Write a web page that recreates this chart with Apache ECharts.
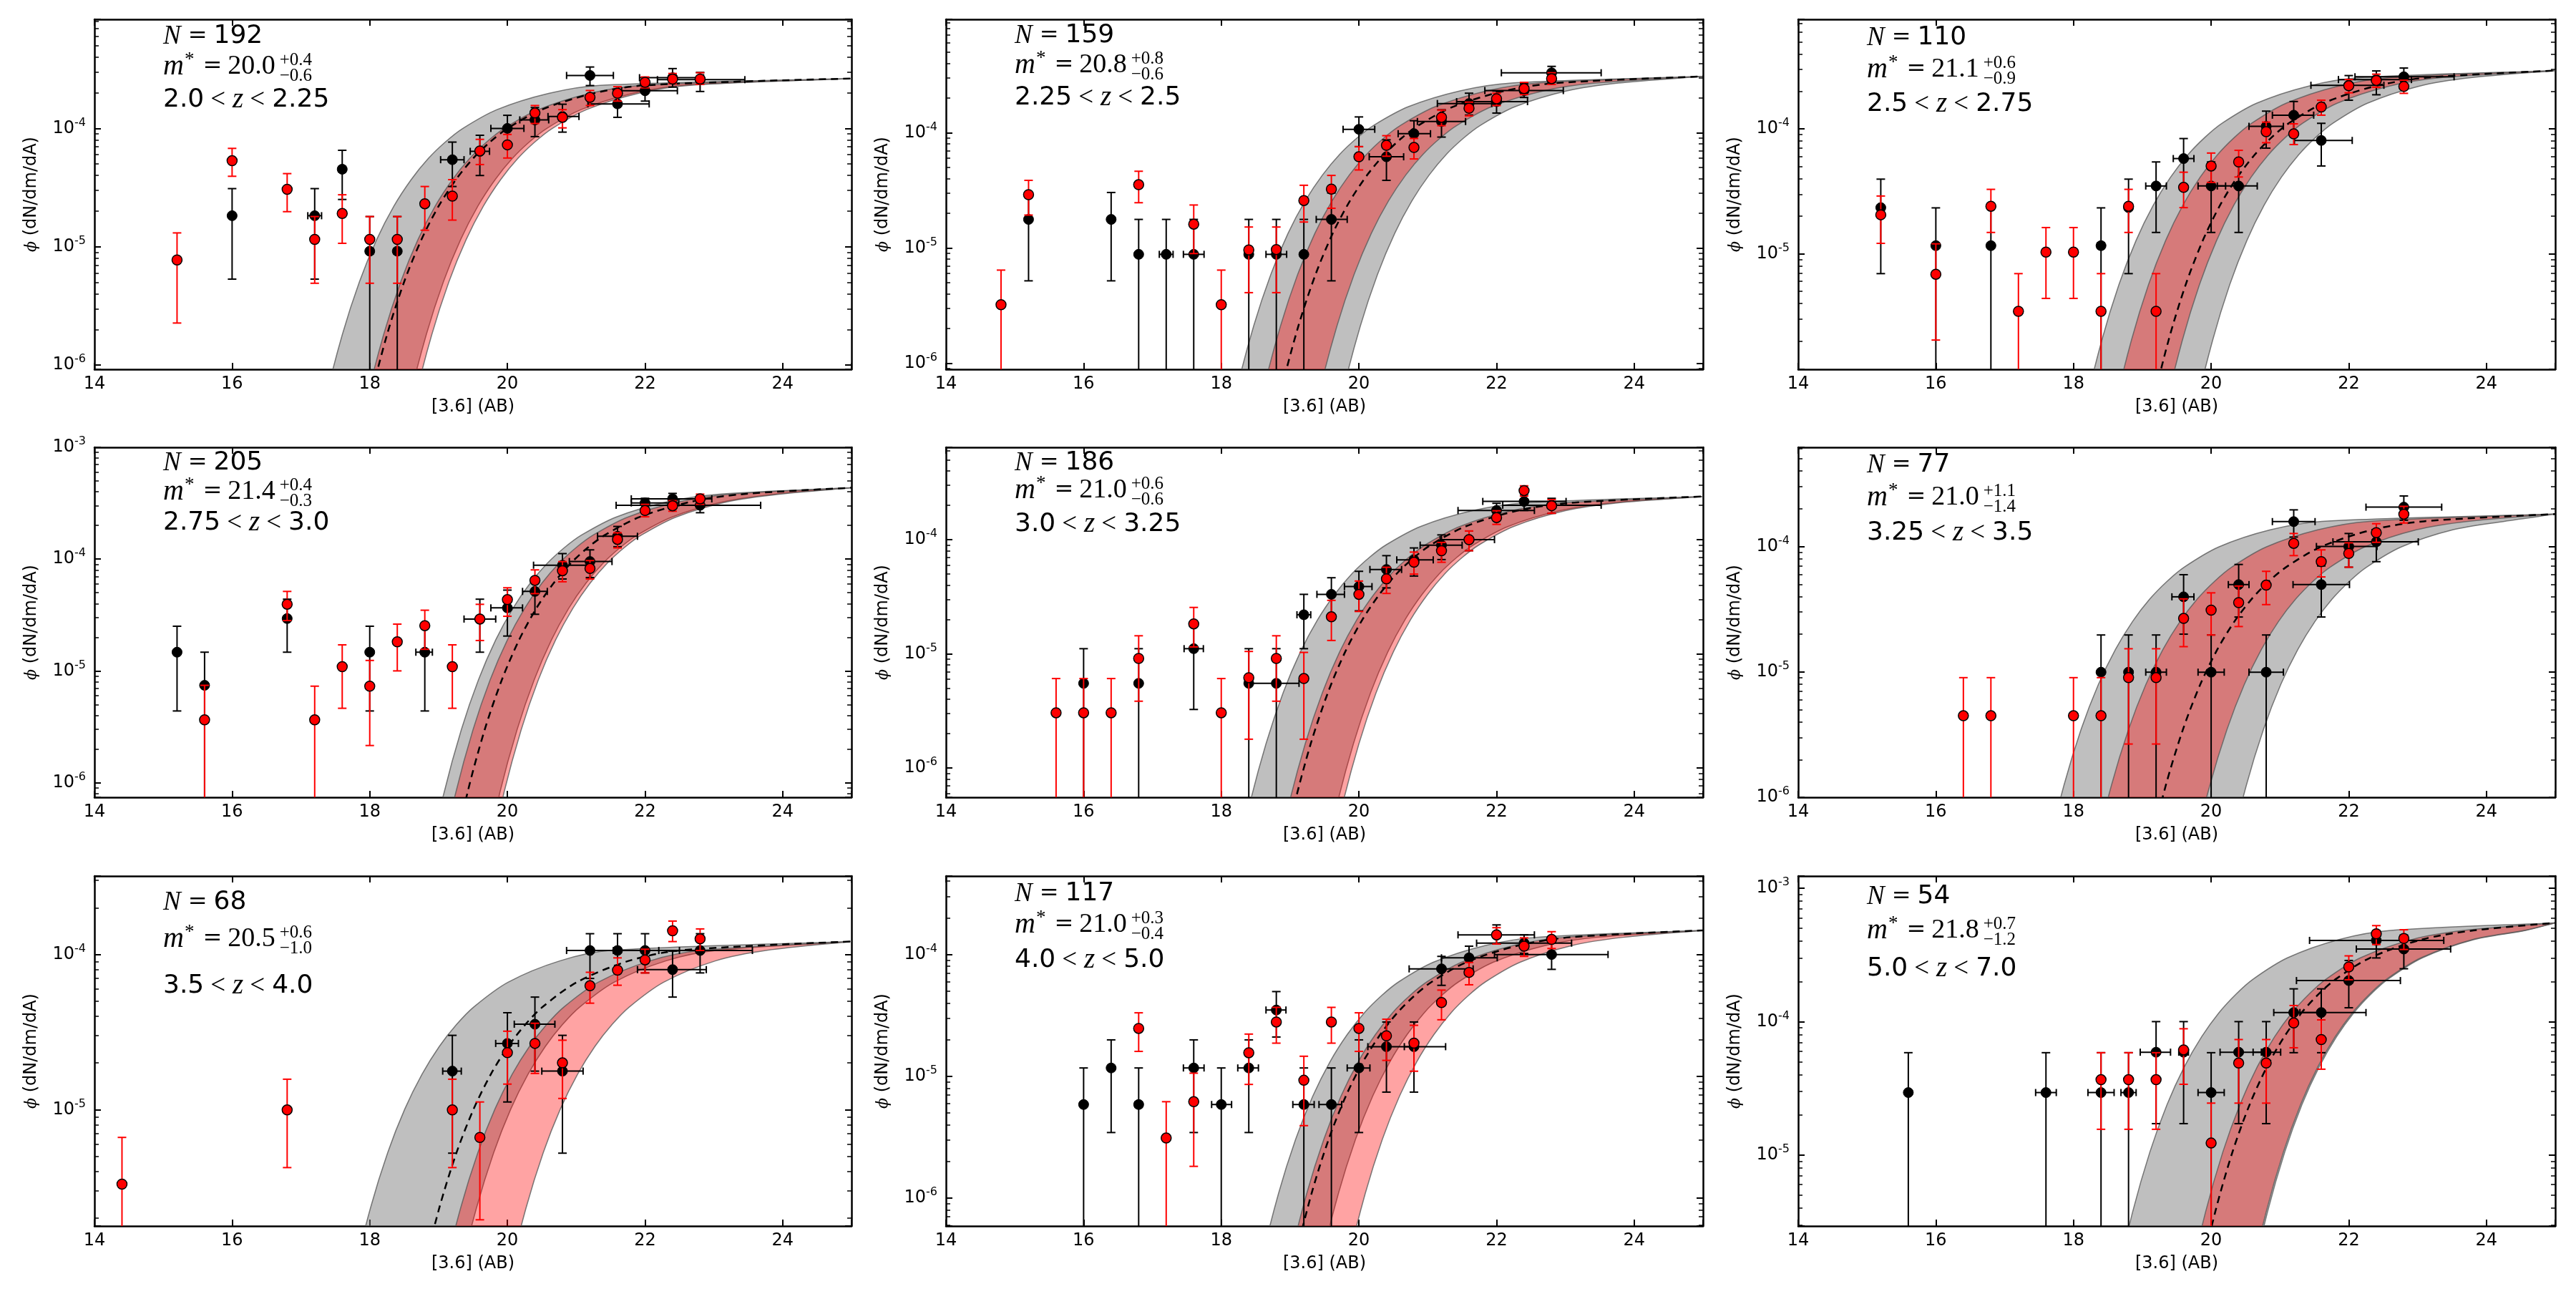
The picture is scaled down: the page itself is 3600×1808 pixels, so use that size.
<!DOCTYPE html>
<html>
<head>
<meta charset="utf-8">
<script src="https://cdn.jsdelivr.net/npm/echarts@6/dist/echarts.min.js"></script>
<style>
html, body { margin: 0; padding: 0; background: #fff; }
#chart { width: 3600px; height: 1808px; }
</style>
</head>
<body>
<div id="chart"></div>
<script>
// ---- fitted curves: flux levels and the [3.6] magnitude where each curve reaches them ----
var p1Levels = [9.62e-8, 4.93e-7, 1.80e-6, 5.06e-6, 1.148e-5, 2.20e-5, 3.68e-5, 5.56e-5, 7.69e-5, 9.98e-5, 1.442e-4, 1.977e-4, 2.312e-4, 2.637e-4];
var p1Mid   = [17.75, 18, 18.25, 18.5, 18.75, 19, 19.25, 19.5, 19.75, 20, 20.5, 21.25, 22, 25];
var p1GrayL = [17.1, 17.35, 17.6, 17.85, 18.1, 18.35, 18.6, 18.85, 19.1, 19.35, 19.85, 20.6, 21.35, 25];
var p1GrayR = [18.32, 18.57, 18.82, 19.07, 19.32, 19.57, 19.82, 20.07, 20.32, 20.57, 21.07, 21.82, 22.57, 25];
var p1RedL  = [17.7, 17.95, 18.2, 18.45, 18.7, 18.95, 19.2, 19.45, 19.7, 19.95, 20.45, 21.2, 21.95, 25];
var p1RedR  = [18.4, 18.65, 18.9, 19.15, 19.4, 19.65, 19.9, 20.15, 20.4, 20.65, 21.15, 21.9, 22.65, 25];

var p2Levels = [1.121e-7, 5.75e-7, 2.10e-6, 5.90e-6, 1.339e-5, 2.563e-5, 4.29e-5, 6.48e-5, 8.97e-5, 1.163e-4, 1.681e-4, 2.305e-4, 2.695e-4, 3.075e-4];
var p2Mid   = [18.62, 18.87, 19.12, 19.37, 19.62, 19.87, 20.12, 20.37, 20.62, 20.87, 21.37, 22.12, 22.87, 25];
var p2GrayL = [17.97, 18.22, 18.47, 18.72, 18.97, 19.22, 19.47, 19.72, 19.97, 20.22, 20.72, 21.47, 22.22, 25];
var p2GrayR = [19.52, 19.77, 20.02, 20.27, 20.52, 20.77, 21.02, 21.27, 21.52, 21.77, 22.27, 23.02, 23.77, 25];
var p2RedL  = [18.36, 18.61, 18.86, 19.11, 19.36, 19.61, 19.86, 20.11, 20.36, 20.61, 21.11, 21.86, 22.61, 25];
var p2RedR  = [19.18, 19.43, 19.68, 19.93, 20.18, 20.43, 20.68, 20.93, 21.18, 21.43, 21.93, 22.68, 23.43, 25];

var p3Levels = [1.071e-7, 5.50e-7, 2.008e-6, 5.64e-6, 1.279e-5, 2.449e-5, 4.10e-5, 6.19e-5, 8.57e-5, 1.112e-4, 1.607e-4, 2.203e-4, 2.576e-4, 2.938e-4];
var p3Mid   = [18.88, 19.13, 19.38, 19.63, 19.88, 20.13, 20.38, 20.63, 20.88, 21.13, 21.63, 22.38, 23.13, 25];
var p3GrayL = [17.91, 18.16, 18.41, 18.66, 18.91, 19.16, 19.41, 19.66, 19.91, 20.16, 20.66, 21.41, 22.16, 25];
var p3GrayR = [19.52, 19.77, 20.02, 20.27, 20.52, 20.77, 21.02, 21.27, 21.52, 21.77, 22.27, 23.02, 23.77, 25];
var p3RedL  = [18.34, 18.59, 18.84, 19.09, 19.34, 19.59, 19.84, 20.09, 20.34, 20.59, 21.09, 21.84, 22.59, 25];
var p3RedR  = [19.08, 19.33, 19.58, 19.83, 20.08, 20.33, 20.58, 20.83, 21.08, 21.33, 21.83, 22.58, 23.33, 25];

var p4Levels = [1.586e-7, 8.14e-7, 2.973e-6, 8.34e-6, 1.893e-5, 3.625e-5, 6.07e-5, 9.17e-5, 1.269e-4, 1.645e-4, 2.378e-4, 3.261e-4, 3.813e-4, 4.349e-4];
var p4Mid   = [19.17, 19.42, 19.67, 19.92, 20.17, 20.42, 20.67, 20.92, 21.17, 21.42, 21.92, 22.67, 23.42, 25];
var p4GrayL = [18.83, 19.08, 19.33, 19.58, 19.83, 20.08, 20.33, 20.58, 20.83, 21.08, 21.58, 22.33, 23.08, 25];
var p4GrayR = [19.64, 19.89, 20.14, 20.39, 20.64, 20.89, 21.14, 21.39, 21.64, 21.89, 22.39, 23.14, 23.89, 25];
var p4RedL  = [19, 19.25, 19.5, 19.75, 20, 20.25, 20.5, 20.75, 21, 21.25, 21.75, 22.5, 23.25, 25];
var p4RedR  = [19.7, 19.95, 20.2, 20.45, 20.7, 20.95, 21.2, 21.45, 21.7, 21.95, 22.45, 23.2, 23.95, 25];

var p5Levels = [8.71e-8, 4.47e-7, 1.633e-6, 4.58e-6, 1.040e-5, 1.991e-5, 3.33e-5, 5.04e-5, 6.97e-5, 9.04e-5, 1.306e-4, 1.791e-4, 2.094e-4, 2.389e-4];
var p5Mid   = [18.8, 19.05, 19.3, 19.55, 19.8, 20.05, 20.3, 20.55, 20.8, 21.05, 21.55, 22.3, 23.05, 25];
var p5GrayL = [18.15, 18.4, 18.65, 18.9, 19.15, 19.4, 19.65, 19.9, 20.15, 20.4, 20.9, 21.65, 22.4, 25];
var p5GrayR = [19.42, 19.67, 19.92, 20.17, 20.42, 20.67, 20.92, 21.17, 21.42, 21.67, 22.17, 22.92, 23.67, 25];
var p5RedL  = [18.72, 18.97, 19.22, 19.47, 19.72, 19.97, 20.22, 20.47, 20.72, 20.97, 21.47, 22.22, 22.97, 25];
var p5RedR  = [19.5, 19.75, 20, 20.25, 20.5, 20.75, 21, 21.25, 21.5, 21.75, 22.25, 23, 23.75, 25];

var p6Levels = [6.61e-8, 3.39e-7, 1.238e-6, 3.47e-6, 7.89e-6, 1.510e-5, 2.53e-5, 3.82e-5, 5.28e-5, 6.85e-5, 9.91e-5, 1.358e-4, 1.588e-4, 1.812e-4];
var p6Mid   = [18.84, 19.09, 19.34, 19.59, 19.84, 20.09, 20.34, 20.59, 20.84, 21.09, 21.59, 22.34, 23.09, 25];
var p6GrayL = [17.36, 17.61, 17.86, 18.11, 18.36, 18.61, 18.86, 19.11, 19.36, 19.61, 20.11, 20.86, 21.61, 25];
var p6GrayR = [20.01, 20.26, 20.51, 20.76, 21.01, 21.26, 21.51, 21.76, 22.01, 22.26, 22.76, 23.51, 24.26, 25];
var p6RedL  = [18.05, 18.3, 18.55, 18.8, 19.05, 19.3, 19.55, 19.8, 20.05, 20.3, 20.8, 21.55, 22.3, 25];
var p6RedR  = [19.48, 19.73, 19.98, 20.23, 20.48, 20.73, 20.98, 21.23, 21.48, 21.73, 22.23, 22.98, 23.73, 25];

var p7Levels = [4.42e-8, 2.27e-7, 8.28e-7, 2.32e-6, 5.27e-6, 1.010e-5, 1.691e-5, 2.55e-5, 3.53e-5, 4.58e-5, 6.62e-5, 9.08e-5, 1.062e-4, 1.211e-4];
var p7Mid   = [18.26, 18.51, 18.76, 19.01, 19.26, 19.51, 19.76, 20.01, 20.26, 20.51, 21.01, 21.76, 22.51, 25];
var p7GrayL = [17.26, 17.51, 17.76, 18.01, 18.26, 18.51, 18.76, 19.01, 19.26, 19.51, 20.01, 20.76, 21.51, 25];
var p7GrayR = [18.8, 19.05, 19.3, 19.55, 19.8, 20.05, 20.3, 20.55, 20.8, 21.05, 21.55, 22.3, 23.05, 25];
var p7RedL  = [18.57, 18.82, 19.07, 19.32, 19.57, 19.82, 20.07, 20.32, 20.57, 20.82, 21.32, 22.07, 22.82, 25];
var p7RedR  = [19.52, 19.77, 20.02, 20.27, 20.52, 20.77, 21.02, 21.27, 21.52, 21.77, 22.27, 23.02, 23.77, 25];

var p8Levels = [5.75e-8, 2.95e-7, 1.079e-6, 3.03e-6, 6.87e-6, 1.315e-5, 2.20e-5, 3.33e-5, 4.60e-5, 5.97e-5, 8.63e-5, 1.183e-4, 1.384e-4, 1.578e-4];
var p8Mid   = [18.81, 19.06, 19.31, 19.56, 19.81, 20.06, 20.31, 20.56, 20.81, 21.06, 21.56, 22.31, 23.06, 25];
var p8GrayL = [18.33, 18.58, 18.83, 19.08, 19.33, 19.58, 19.83, 20.08, 20.33, 20.58, 21.08, 21.83, 22.58, 25];
var p8GrayR = [19.2, 19.45, 19.7, 19.95, 20.2, 20.45, 20.7, 20.95, 21.2, 21.45, 21.95, 22.7, 23.45, 25];
var p8RedL  = [18.74, 18.99, 19.24, 19.49, 19.74, 19.99, 20.24, 20.49, 20.74, 20.99, 21.49, 22.24, 22.99, 25];
var p8RedR  = [19.59, 19.84, 20.09, 20.34, 20.59, 20.84, 21.09, 21.34, 21.59, 21.84, 22.34, 23.09, 23.84, 25];

var p9Levels = [2.005e-7, 1.028e-6, 3.757e-6, 1.054e-5, 2.393e-5, 4.582e-5, 7.67e-5, 1.159e-4, 1.603e-4, 2.080e-4, 3.006e-4, 4.122e-4, 4.819e-4, 5.497e-4];
var p9Mid   = [19.56, 19.81, 20.06, 20.31, 20.56, 20.81, 21.06, 21.31, 21.56, 21.81, 22.31, 23.06, 23.81, 25];
var p9GrayL = [18.36, 18.61, 18.86, 19.11, 19.36, 19.61, 19.86, 20.11, 20.36, 20.61, 21.11, 21.86, 22.61, 25];
var p9GrayR = [20.32, 20.57, 20.82, 21.07, 21.32, 21.57, 21.82, 22.07, 22.32, 22.57, 23.07, 23.82, 24.57, 25];
var p9RedL  = [19.42, 19.67, 19.92, 20.17, 20.42, 20.67, 20.92, 21.17, 21.42, 21.67, 22.17, 22.92, 23.67, 25];
var p9RedR  = [20.3, 20.55, 20.8, 21.05, 21.3, 21.55, 21.8, 22.05, 22.3, 22.55, 23.05, 23.8, 24.55, 25];

// ---- measured points: red [mag, phi, phiLow, phiHigh]; black adds [magLow, magHigh]; phiLow 0 = bar to zero ----
var p1Red = [[15.2,7.74e-6,2.27e-6,1.31e-5],[16.0,5.33e-5,3.94e-5,6.78e-5],[16.8,3.06e-5,1.98e-5,4.15e-5],[17.2,1.155e-5,4.92e-6,1.8e-5],[17.6,1.91e-5,1.07e-5,2.75e-5],[18.0,1.155e-5,4.92e-6,1.8e-5],[18.4,1.155e-5,4.92e-6,1.8e-5],[18.8,2.31e-5,1.38e-5,3.23e-5],[19.2,2.68e-5,1.68e-5,3.69e-5],[19.6,6.45e-5,4.95e-5,8.08e-5],[20.0,7.26e-5,5.62e-5,8.89e-5],[20.4,1.35e-4,1.10e-4,1.56e-4],[20.8,1.24e-4,1.01e-4,1.44e-4],[21.2,1.83e-4,1.56e-4,2.09e-4],[21.6,1.98e-4,1.70e-4,2.25e-4],[22.0,2.45e-4,2.20e-4,2.72e-4],[22.4,2.61e-4,2.38e-4,2.91e-4],[22.8,2.61e-4,2.35e-4,2.95e-4]];
var p1Black = [[16.0,1.83e-5,5.33e-6,3.1e-5,16.0,16.0],[17.2,1.83e-5,5.33e-6,3.1e-5,17.1,17.3],[17.6,4.52e-5,2.51e-5,6.53e-5,17.55,17.65],[18.0,9.18e-6,0,1.8e-5,17.95,18.05],[18.4,9.18e-6,0,1.8e-5,18.35,18.45],[19.2,5.44e-5,3.23e-5,7.66e-5,19.03,19.37],[19.6,6.4e-5,4.0e-5,8.75e-5,19.46,19.74],[20.0,1.0e-4,7.4e-5,1.29e-4,19.76,20.24],[20.4,1.18e-4,8.52e-5,1.5e-4,20.18,20.6],[20.8,1.26e-4,9.3e-5,1.6e-4,20.59,21.04],[21.2,2.8e-4,2.3e-4,3.3e-4,20.86,21.54],[21.6,1.61e-4,1.24e-4,1.98e-4,21.17,22.06],[22.0,2.08e-4,1.7e-4,2.5e-4,21.66,22.47],[22.4,2.68e-4,2.23e-4,3.2e-4,21.92,22.85],[22.8,2.58e-4,2.05e-4,2.97e-4,22.18,23.45]];

var p2Red = [[14.8,3.22e-6,0,6.43e-6],[15.2,2.90e-5,1.93e-5,3.86e-5],[16.8,3.54e-5,2.47e-5,4.63e-5],[17.6,1.61e-5,8.95e-6,2.36e-5],[18.0,3.22e-6,0,6.43e-6],[18.4,9.61e-6,4.10e-6,1.52e-5],[18.8,9.7e-6,4.10e-6,1.52e-5],[19.2,2.58e-5,1.68e-5,3.50e-5],[19.6,3.24e-5,2.21e-5,4.26e-5],[20.0,6.18e-5,4.75e-5,7.57e-5],[20.4,7.78e-5,6.25e-5,9.42e-5],[20.8,7.44e-5,5.92e-5,8.91e-5],[21.2,1.36e-4,1.15e-4,1.57e-4],[21.6,1.63e-4,1.40e-4,1.84e-4],[22.0,1.97e-4,1.72e-4,2.20e-4],[22.4,2.41e-4,2.14e-4,2.73e-4],[22.8,2.94e-4,2.62e-4,3.31e-4]];
var p2Black = [[15.2,1.77e-5,5.19e-6,2.9e-5,15.2,15.2],[16.4,1.77e-5,5.19e-6,3.03e-5,16.4,16.4],[16.8,8.81e-6,0,1.77e-5,16.8,16.8],[17.2,8.81e-6,0,1.77e-5,17.1,17.3],[17.6,8.81e-6,0,1.77e-5,17.45,17.75],[18.4,8.81e-6,0,1.77e-5,18.4,18.4],[18.8,8.81e-6,0,1.77e-5,18.65,18.95],[19.2,8.81e-6,0,1.77e-5,19.2,19.2],[19.6,1.77e-5,5.19e-6,3.0e-5,19.38,19.83],[20.0,1.07e-4,7.57e-5,1.37e-4,19.77,20.23],[20.4,6.18e-5,3.86e-5,8.67e-5,20.15,20.65],[20.8,9.8e-5,7.36e-5,1.27e-4,20.57,21.04],[21.2,1.25e-4,9.16e-5,1.58e-4,20.85,21.55],[21.6,1.79e-4,1.42e-4,2.2e-4,21.14,21.93],[22.0,1.86e-4,1.48e-4,2.3e-4,21.42,22.45],[22.4,2.32e-4,2.02e-4,2.66e-4,21.83,22.97],[22.8,3.31e-4,2.73e-4,3.76e-4,22.07,23.52]];

var p3Red = [[15.2,2.05e-5,1.21e-5,2.90e-5],[16.0,6.84e-6,2.03e-6,1.2e-5],[16.8,2.40e-5,1.48e-5,3.28e-5],[17.2,3.45e-6,0,6.92e-6],[17.6,1.03e-5,4.38e-6,1.62e-5],[18.0,1.03e-5,4.38e-6,1.62e-5],[18.4,3.45e-6,0,6.92e-6],[18.8,2.40e-5,1.48e-5,3.28e-5],[19.2,3.45e-6,0,6.92e-6],[19.6,3.40e-5,2.34e-5,4.50e-5],[20.0,5.05e-5,3.73e-5,6.41e-5],[20.4,5.44e-5,4.12e-5,6.74e-5],[20.8,9.51e-5,7.76e-5,1.135e-4],[21.2,9.13e-5,7.5e-5,1.1e-4],[21.6,1.50e-4,1.29e-4,1.70e-4],[22.0,2.22e-4,1.95e-4,2.49e-4],[22.4,2.45e-4,2.16e-4,2.75e-4],[22.8,2.19e-4,1.93e-4,2.46e-4]];
var p3Black = [[15.2,2.34e-5,6.92e-6,3.96e-5,15.2,15.2],[16.0,1.16e-5,0,2.33e-5,16.0,16.0],[16.8,1.16e-5,0,2.33e-5,16.8,16.8],[18.4,1.16e-5,0,2.33e-5,18.35,18.45],[18.8,2.34e-5,6.92e-6,3.96e-5,18.8,18.8],[19.2,3.49e-5,1.48e-5,5.44e-5,19.05,19.35],[19.6,5.79e-5,3.46e-5,8.38e-5,19.45,19.75],[20.0,3.49e-5,1.48e-5,5.44e-5,19.81,20.21],[20.4,3.49e-5,1.48e-5,5.44e-5,20.09,20.67],[20.8,1.05e-4,7.02e-5,1.39e-4,20.55,21.05],[21.2,1.29e-4,9.0e-5,1.66e-4,20.89,21.49],[21.6,8.09e-5,5.05e-5,1.11e-4,21.21,22.05],[22.0,2.24e-4,1.70e-4,2.68e-4,21.45,22.51],[22.4,2.49e-4,1.88e-4,2.92e-4,21.85,22.91],[22.8,2.62e-4,2.19e-4,3.08e-4,22.09,23.53]];

var p4Red = [[15.6,3.65e-6,0,7.43e-6],[16.8,3.95e-5,2.82e-5,5.14e-5],[17.2,3.65e-6,0,7.3e-6],[17.6,1.09e-5,4.63e-6,1.71e-5],[18.0,7.3e-6,2.15e-6,1.24e-5],[18.4,1.82e-5,1.0e-5,2.62e-5],[18.8,2.54e-5,1.56e-5,3.49e-5],[19.2,1.09e-5,4.63e-6,1.71e-5],[19.6,2.91e-5,1.87e-5,3.94e-5],[20.0,4.34e-5,3.08e-5,5.54e-5],[20.4,6.45e-5,4.91e-5,8.01e-5],[20.8,7.87e-5,6.27e-5,9.5e-5],[21.2,8.24e-5,6.64e-5,9.7e-5],[21.6,1.50e-4,1.26e-4,1.72e-4],[22.0,2.72e-4,2.39e-4,3.09e-4],[22.4,3.0e-4,2.68e-4,3.33e-4],[22.8,3.46e-4,3.09e-4,3.81e-4]];
var p4Black = [[15.2,1.47e-5,4.38e-6,2.51e-5,15.2,15.2],[15.6,7.43e-6,0,1.47e-5,15.6,15.6],[16.8,2.94e-5,1.47e-5,4.38e-5,16.8,16.8],[18.0,1.47e-5,4.38e-6,2.51e-5,18.0,18.0],[18.8,1.47e-5,4.38e-6,2.51e-5,18.67,18.91],[19.6,2.91e-5,1.47e-5,4.38e-5,19.37,19.83],[20.0,3.66e-5,2.05e-5,5.28e-5,19.76,20.22],[20.4,5.14e-5,3.21e-5,6.8e-5,20.22,20.58],[20.8,8.82e-5,6.64e-5,1.12e-4,20.38,21.15],[21.2,9.51e-5,6.84e-5,1.21e-4,20.9,21.52],[21.6,1.60e-4,1.29e-4,1.96e-4,21.31,21.89],[22.0,3.18e-4,2.83e-4,3.5e-4,21.8,22.49],[22.4,3.46e-4,3.0e-4,3.87e-4,21.8,22.97],[22.8,3.03e-4,2.6e-4,3.4e-4,21.58,23.68]];

var p5Red = [[15.6,3.05e-6,0,6.08e-6],[16.0,3.05e-6,0,6.08e-6],[16.4,3.05e-6,0,6.08e-6],[16.8,9.12e-6,3.85e-6,1.44e-5],[17.6,1.83e-5,1.15e-5,2.55e-5],[18.0,3.05e-6,0,6.08e-6],[18.4,6.18e-6,1.79e-6,1.05e-5],[18.8,9.12e-6,3.85e-6,1.44e-5],[19.2,6.08e-6,1.79e-6,1.03e-5],[19.6,2.11e-5,1.31e-5,2.94e-5],[20.0,3.32e-5,2.35e-5,4.34e-5],[20.4,4.54e-5,3.38e-5,5.73e-5],[20.8,6.34e-5,4.99e-5,7.78e-5],[21.2,8.0e-5,6.34e-5,9.45e-5],[21.6,1.0e-4,8.0e-5,1.19e-4],[22.0,1.56e-4,1.36e-4,1.79e-4],[22.4,2.69e-4,2.41e-4,2.96e-4],[22.8,1.98e-4,1.70e-4,2.24e-4]];
var p5Black = [[16.0,5.52e-6,0,1.11e-5,16.0,16.0],[16.8,5.52e-6,0,1.11e-5,16.8,16.8],[17.6,1.11e-5,3.26e-6,1.83e-5,17.46,17.74],[18.4,5.52e-6,0,1.11e-5,18.4,18.4],[18.8,5.52e-6,0,1.11e-5,18.42,19.13],[19.2,2.2e-5,1.11e-5,3.32e-5,19.1,19.3],[19.6,3.32e-5,2.11e-5,4.64e-5,19.39,19.79],[20.0,3.88e-5,2.38e-5,5.28e-5,19.79,20.19],[20.4,5.48e-5,3.78e-5,7.24e-5,20.16,20.62],[20.8,6.65e-5,4.8e-5,8.46e-5,20.55,21.08],[21.2,8.95e-5,6.69e-5,1.1e-4,20.89,21.5],[21.6,1.0e-4,8.0e-5,1.19e-4,21.18,21.97],[22.0,1.80e-4,1.48e-4,2.08e-4,21.44,22.55],[22.4,2.16e-4,1.8e-4,2.5e-4,21.8,23.01],[22.8,2.0e-4,1.7e-4,2.3e-4,22.09,23.52]];

var p6Red = [[16.4,4.47e-6,0,9.0e-6],[16.8,4.47e-6,0,9.0e-6],[18.0,4.47e-6,0,9.0e-6],[18.4,4.47e-6,0,9.0e-6],[18.8,9.0e-6,2.66e-6,1.53e-5],[19.2,9.0e-6,2.66e-6,1.53e-5],[19.6,2.67e-5,1.59e-5,3.82e-5],[20.0,3.11e-5,1.97e-5,4.27e-5],[20.4,3.57e-5,2.3e-5,4.84e-5],[20.8,4.92e-5,3.44e-5,6.34e-5],[21.2,1.06e-4,8.46e-5,1.27e-4],[21.6,7.57e-5,5.72e-5,9.4e-5],[22.0,8.81e-5,6.84e-5,1.07e-4],[22.4,1.29e-4,1.08e-4,1.52e-4],[22.8,1.81e-4,1.54e-4,2.09e-4]];
var p6Black = [[18.4,9.95e-6,0,1.97e-5,18.4,18.4],[18.8,9.95e-6,0,1.97e-5,18.8,18.8],[19.2,9.95e-6,0,1.97e-5,19.05,19.35],[19.6,3.97e-5,2.0e-5,5.96e-5,19.43,19.75],[20.0,9.95e-6,0,1.97e-5,19.81,20.19],[20.4,4.97e-5,2.74e-5,7.19e-5,20.25,20.55],[20.8,9.95e-6,0,1.97e-5,20.55,21.05],[21.2,1.58e-4,1.19e-4,1.96e-4,20.89,21.51],[21.6,4.97e-5,2.74e-5,7.0e-5,21.19,22.01],[22.0,1.0e-4,6.84e-5,1.27e-4,21.53,22.41],[22.4,1.09e-4,7.57e-5,1.32e-4,21.77,23.01],[22.8,2.06e-4,1.62e-4,2.53e-4,22.25,23.35]];

var p7Red = [[14.4,3.31e-6,0,6.62e-6],[16.8,9.95e-6,4.23e-6,1.57e-5],[19.2,9.95e-6,4.23e-6,1.57e-5],[19.6,6.62e-6,1.95e-6,1.12e-5],[20.0,2.33e-5,1.46e-5,3.2e-5],[20.4,2.67e-5,1.71e-5,3.6e-5],[20.8,2.0e-5,1.18e-5,2.8e-5],[21.2,6.28e-5,4.85e-5,7.67e-5],[21.6,7.92e-5,6.33e-5,9.5e-5],[22.0,9.22e-5,7.6e-5,1.08e-4],[22.4,1.42e-4,1.21e-4,1.64e-4],[22.8,1.26e-4,1.06e-4,1.46e-4]];
var p7Black = [[19.2,1.77e-5,5.24e-6,3.01e-5,19.06,19.33],[20.0,2.67e-5,1.12e-5,4.21e-5,19.83,20.16],[20.4,3.55e-5,1.77e-5,5.31e-5,20.1,20.69],[20.8,1.77e-5,5.24e-6,3.01e-5,20.5,21.1],[21.2,1.06e-4,7.0e-5,1.36e-4,20.86,21.54],[21.6,1.06e-4,7.9e-5,1.36e-4,21.2,22.0],[22.0,1.06e-4,7.6e-5,1.36e-4,21.6,22.5],[22.4,7.98e-5,5.31e-5,1.05e-4,21.89,22.89],[22.8,1.06e-4,7.6e-5,1.36e-4,22.2,23.56]];

var p8Red = [[16.8,2.47e-5,1.60e-5,3.32e-5],[17.2,3.11e-6,0,6.18e-6],[17.6,6.18e-6,1.82e-6,1.06e-5],[18.4,1.56e-5,8.57e-6,2.22e-5],[18.8,2.79e-5,1.87e-5,3.68e-5],[19.2,9.27e-6,3.93e-6,1.46e-5],[19.6,2.79e-5,1.87e-5,3.68e-5],[20.0,2.47e-5,1.60e-5,3.32e-5],[20.4,2.15e-5,1.35e-5,2.94e-5],[20.8,1.87e-5,1.1e-5,2.62e-5],[21.2,4.03e-5,2.91e-5,5.1e-5],[21.6,7.13e-5,5.64e-5,8.6e-5],[22.0,1.45e-4,1.22e-4,1.66e-4],[22.4,1.17e-4,9.65e-5,1.37e-4],[22.8,1.33e-4,1.12e-4,1.54e-4]];
var p8Black = [[16.0,5.86e-6,0,1.17e-5,16.0,16.0],[16.4,1.17e-5,3.45e-6,1.99e-5,16.4,16.4],[16.8,5.86e-6,0,1.17e-5,16.75,16.85],[17.6,1.17e-5,3.45e-6,1.99e-5,17.45,17.75],[18.0,5.86e-6,0,1.17e-5,17.86,18.15],[18.4,1.17e-5,3.45e-6,1.99e-5,18.24,18.54],[18.8,3.5e-5,2.1e-5,4.96e-5,18.65,18.94],[19.2,5.86e-6,0,1.17e-5,19.04,19.35],[19.6,5.86e-6,0,1.17e-5,19.42,19.75],[20.0,1.17e-5,3.45e-6,1.99e-5,19.83,20.16],[20.4,1.75e-5,7.41e-6,2.79e-5,20.13,20.77],[20.8,1.75e-5,7.41e-6,2.79e-5,20.66,21.26],[21.2,7.62e-5,5.58e-5,9.65e-5,20.73,21.66],[21.6,9.39e-5,7.13e-5,1.17e-4,21.2,22.01],[22.0,1.45e-4,1.22e-4,1.75e-4,21.44,22.55],[22.4,1.24e-4,1.02e-4,1.45e-4,21.71,23.09],[22.8,1.0e-4,7.55e-5,1.25e-4,21.97,23.62]];

var p9Red = [[18.4,3.67e-5,1.56e-5,5.85e-5],[18.8,3.67e-5,1.56e-5,5.85e-5],[19.2,3.67e-5,1.56e-5,5.85e-5],[19.6,6.14e-5,3.39e-5,8.84e-5],[20.0,1.23e-5,0,2.45e-5],[20.4,4.89e-5,2.45e-5,7.34e-5],[20.8,4.89e-5,2.45e-5,7.34e-5],[21.2,9.77e-5,6.37e-5,1.32e-4],[21.6,7.34e-5,4.4e-5,1.03e-4],[22.0,2.57e-4,2.06e-4,3.11e-4],[22.4,4.55e-4,3.78e-4,5.24e-4],[22.8,4.2e-4,3.47e-4,4.88e-4]];
var p9Black = [[15.6,2.94e-5,0,5.85e-5,15.6,15.6],[17.6,2.94e-5,0,5.85e-5,17.45,17.75],[18.4,2.94e-5,0,5.85e-5,18.21,18.59],[18.8,2.94e-5,0,5.85e-5,18.69,18.91],[19.2,5.9e-5,1.72e-5,1.0e-4,18.97,19.41],[19.6,5.9e-5,1.72e-5,1.0e-4,19.53,19.67],[20.0,2.94e-5,0,5.85e-5,19.81,20.19],[20.4,5.9e-5,1.72e-5,1.0e-4,20.13,20.73],[20.8,5.9e-5,1.72e-5,1.0e-4,20.61,21.01],[21.2,1.17e-4,5.85e-5,1.76e-4,20.91,21.61],[21.6,1.17e-4,5.85e-5,1.76e-4,21.29,22.25],[22.0,2.03e-4,1.27e-4,2.87e-4,21.24,22.75],[22.4,4.06e-4,3.0e-4,4.8e-4,21.43,23.38],[22.8,3.5e-4,2.49e-4,4.45e-4,22.11,23.48]];

// ---- annotations ----
var counts = ['192', '159', '110', '205', '186', '77', '68', '117', '54'];
var mStar  = ['20.0', '20.8', '21.1', '21.4', '21.0', '21.0', '20.5', '21.0', '21.8'];
var mUp    = ['+0.4', '+0.8', '+0.6', '+0.4', '+0.6', '+1.1', '+0.6', '+0.3', '+0.7'];
var mDown  = ['\u22120.6', '\u22120.6', '\u22120.9', '\u22120.3', '\u22120.6', '\u22121.4', '\u22121.0', '\u22120.4', '\u22121.2'];
var zLo    = ['2.0', '2.25', '2.5', '2.75', '3.0', '3.25', '3.5', '4.0', '5.0'];
var zHi    = ['2.25', '2.5', '2.75', '3.0', '3.25', '3.5', '4.0', '5.0', '7.0'];

var panels = [
    {lv: p1Levels, mid: p1Mid, gray: [p1GrayL, p1GrayR], red: [p1RedL, p1RedR], blk: p1Black, rd: p1Red},
    {lv: p2Levels, mid: p2Mid, gray: [p2GrayL, p2GrayR], red: [p2RedL, p2RedR], blk: p2Black, rd: p2Red},
    {lv: p3Levels, mid: p3Mid, gray: [p3GrayL, p3GrayR], red: [p3RedL, p3RedR], blk: p3Black, rd: p3Red},
    {lv: p4Levels, mid: p4Mid, gray: [p4GrayL, p4GrayR], red: [p4RedL, p4RedR], blk: p4Black, rd: p4Red},
    {lv: p5Levels, mid: p5Mid, gray: [p5GrayL, p5GrayR], red: [p5RedL, p5RedR], blk: p5Black, rd: p5Red},
    {lv: p6Levels, mid: p6Mid, gray: [p6GrayL, p6GrayR], red: [p6RedL, p6RedR], blk: p6Black, rd: p6Red},
    {lv: p7Levels, mid: p7Mid, gray: [p7GrayL, p7GrayR], red: [p7RedL, p7RedR], blk: p7Black, rd: p7Red},
    {lv: p8Levels, mid: p8Mid, gray: [p8GrayL, p8GrayR], red: [p8RedL, p8RedR], blk: p8Black, rd: p8Red},
    {lv: p9Levels, mid: p9Mid, gray: [p9GrayL, p9GrayR], red: [p9RedL, p9RedR], blk: p9Black, rd: p9Red}
];

// layout
var yLim = [[9.23e-7, 8.34e-4], [8.87e-7, 9.62e-4], [1.183e-6, 7.57e-4],
            [7.40e-7, 1e-3], [5.55e-7, 6.43e-4], [1e-6, 6.18e-4],
            [1.778e-6, 3.20e-4], [5.89e-7, 4.41e-4], [2.94e-6, 1.233e-3]];
var noteTop = [[24, 66, 113], [23, 64, 110], [26, 70, 119],
               [22, 62, 106], [22, 60, 108], [25, 70, 120],
               [37, 88, 154], [25, 68, 118], [29, 76, 130]];
var colLeft = [132, 1322, 2513], rowTop = [27, 625, 1224];
var plotW = 1058, plotH = 489;

var chart = echarts.init(document.getElementById('chart'));
var meas = document.createElement('canvas').getContext('2d');
var SANS = '"DejaVu Sans"', SERIF = '"Liberation Serif"', DSERIF = '"DejaVu Serif"';

function bandRender(xa, xb, lv, fill) {
    return function (params, api) {
        var pts = [];
        for (var j = 0; j < lv.length; j++) pts.push(api.coord([xa[j], lv[j]]));
        for (var k = lv.length - 1; k >= 0; k--) pts.push(api.coord([xb[k], lv[k]]));
        return {
            type: 'polygon',
            shape: {points: pts, smooth: 0.3},
            style: {fill: fill, stroke: 'rgba(90,90,90,0.8)', lineWidth: 1.5}
        };
    };
}

function curveRender(xs, lv) {
    return function (params, api) {
        var pts = xs.map(function (x, j) { return api.coord([x, lv[j]]); });
        return {
            type: 'polyline',
            shape: {points: pts, smooth: 0.3},
            style: {fill: null, stroke: '#000', lineWidth: 2.5, lineDash: [10, 7]}
        };
    };
}

function errRender(color) {
    return function (params, api) {
        var cs = params.coordSys;
        var x = api.value(0), y = api.value(1), lo = api.value(2), hi = api.value(3);
        var c = api.coord([x, y]);
        var yTop = api.coord([x, hi])[1];
        var yBot = lo > 0 ? api.coord([x, lo])[1] : cs.y + cs.height + 40;
        var segs = [[c[0], yTop, c[0], yBot], [c[0] - 6, yTop, c[0] + 6, yTop]];
        if (lo > 0) segs.push([c[0] - 6, yBot, c[0] + 6, yBot]);
        var xlo = api.value(4), xhi = api.value(5);
        if (xhi > xlo) {
            var xl = api.coord([xlo, y])[0], xr = api.coord([xhi, y])[0];
            segs.push([xl, c[1], xr, c[1]], [xl, c[1] - 5, xl, c[1] + 5], [xr, c[1] - 5, xr, c[1] + 5]);
        }
        return {
            type: 'group',
            children: segs.map(function (s) {
                return {type: 'line', shape: {x1: s[0], y1: s[1], x2: s[2], y2: s[3]},
                        style: {stroke: color, lineWidth: 2}};
            })
        };
    };
}

// lay out a run of text pieces left to right, like mathtext
function textRun(x, y, parts, out) {
    parts.forEach(function (p) {
        meas.font = p.font;
        out.push({type: 'text', x: x, y: y + (p.dy || 0), silent: true,
                  style: {text: p.t, font: p.font, fill: '#000', verticalAlign: 'middle'}});
        if (!p.stay) x += meas.measureText(p.t).width + (p.gap || 0);
    });
    return x;
}

function logLabel(v) {
    var e = Math.log10(v), r = Math.round(e);
    if (Math.abs(e - r) > 1e-6) return '';
    return '{b|10}{s|' + r + '}';
}

var axisLine = {show: true, onZero: false, lineStyle: {color: '#000', width: 2.5}};
var tick = {show: true, inside: true, length: 9, lineStyle: {color: '#000', width: 2}};

var grids = [], xAxes = [], yAxes = [], series = [], graphics = [];

panels.forEach(function (p, i) {
    var left = colLeft[i % 3], top = rowTop[Math.floor(i / 3)];
    grids.push({left: left, top: top, width: plotW, height: plotH, containLabel: false, outerBoundsMode: 'none'});

    ['bottom', 'top'].forEach(function (pos) {
        xAxes.push({
            gridIndex: i, type: 'value', position: pos, min: 14, max: 25, interval: 2,
            axisLine: axisLine, axisTick: tick, splitLine: {show: false},
            axisLabel: {
                show: pos === 'bottom', margin: 9, fontSize: 24, fontFamily: SANS, color: '#000',
                formatter: function (v) { return (v % 2 === 0 && v < 25) ? String(v) : ''; }
            },
            name: pos === 'bottom' ? '[3.6] (AB)' : '',
            nameLocation: 'middle', nameGap: 41,
            nameTextStyle: {fontSize: 24, fontFamily: SANS, color: '#000'}
        });
    });
    ['left', 'right'].forEach(function (pos) {
        yAxes.push({
            gridIndex: i, type: 'log', logBase: 10, position: pos, min: yLim[i][0], max: yLim[i][1],
            axisLine: axisLine, axisTick: tick, splitLine: {show: false},
            minorTick: {show: true, splitNumber: 9, length: 6, lineStyle: {color: '#000', width: 1.5}},
            minorSplitLine: {show: false},
            axisLabel: {
                show: pos === 'left', margin: 12, formatter: logLabel,
                rich: {
                    b: {fontSize: 24, fontFamily: SANS, color: '#000'},
                    s: {fontSize: 16, fontFamily: SANS, color: '#000', padding: [0, 0, 16, 0]}
                }
            },
            name: pos === 'left' ? '{p|\u03d5} (dN/dm/dA)' : '',
            nameLocation: 'middle', nameGap: 76, nameRotate: 90,
            nameTextStyle: {
                fontSize: 24, fontFamily: SANS, color: '#000',
                rich: {p: {fontSize: 22, fontFamily: DSERIF, fontStyle: 'italic', color: '#000'}}
            }
        });
    });

    var ax = {xAxisIndex: 2 * i, yAxisIndex: 2 * i};
    series.push(Object.assign({
        type: 'custom', clip: true, z: 1, silent: true, data: [[20, 1e-5]],
        renderItem: bandRender(p.gray[0], p.gray[1], p.lv, 'rgba(128,128,128,0.5)')
    }, ax));
    series.push(Object.assign({
        type: 'custom', clip: true, z: 2, silent: true, data: [[20, 1e-5]],
        renderItem: bandRender(p.red[0], p.red[1], p.lv, 'rgba(255,0,0,0.36)')
    }, ax));
    series.push(Object.assign({
        type: 'custom', clip: true, z: 3, silent: true, data: [[20, 1e-5]],
        renderItem: curveRender(p.mid, p.lv)
    }, ax));
    series.push(Object.assign({
        type: 'custom', clip: true, z: 4, silent: true, encode: {x: 0, y: 1},
        renderItem: errRender('#000'), data: p.blk
    }, ax));
    series.push(Object.assign({
        type: 'scatter', z: 5, silent: true, symbol: 'circle', symbolSize: 14,
        itemStyle: {color: '#000', borderColor: '#000', borderWidth: 1, opacity: 1},
        data: p.blk.map(function (r) { return [r[0], r[1]]; })
    }, ax));
    series.push(Object.assign({
        type: 'custom', clip: true, z: 6, silent: true, encode: {x: 0, y: 1},
        renderItem: errRender('#ff0000'), data: p.rd
    }, ax));
    series.push(Object.assign({
        type: 'scatter', z: 7, silent: true, symbol: 'circle', symbolSize: 14,
        itemStyle: {color: '#ff0000', borderColor: '#000', borderWidth: 1.5, opacity: 1},
        data: p.rd.map(function (r) { return [r[0], r[1]]; })
    }, ax));

    // N, m*, z-range notes
    var tx = left + 96, off = noteTop[i];
    textRun(tx, top + off[0], [
        {t: 'N', font: 'italic 37px ' + SERIF, gap: 10},
        {t: '=', font: '32px ' + DSERIF, gap: 9},
        {t: counts[i], font: '36px ' + SANS}
    ], graphics);
    var mx = textRun(tx, top + off[1], [
        {t: 'm', font: 'italic 40px ' + SERIF, gap: 1},
        {t: '*', font: '27px ' + SERIF, dy: -9, gap: 12},
        {t: '=', font: '32px ' + DSERIF, gap: 8},
        {t: mStar[i], font: '38px ' + SERIF, gap: 6}
    ], graphics);
    textRun(mx, top + off[1], [
        {t: mUp[i], font: '25px ' + SERIF, dy: -9, stay: true},
        {t: mDown[i], font: '25px ' + SERIF, dy: 13}
    ], graphics);
    textRun(tx, top + off[2], [
        {t: zLo[i], font: '36px ' + SANS, gap: 9},
        {t: '<', font: '37px ' + SERIF, gap: 10},
        {t: 'z', font: 'italic 39px ' + SERIF, gap: 9},
        {t: '<', font: '37px ' + SERIF, gap: 10},
        {t: zHi[i], font: '36px ' + SANS}
    ], graphics);
});

chart.setOption({
    backgroundColor: '#fff',
    animation: false,
    grid: grids,
    xAxis: xAxes,
    yAxis: yAxes,
    series: series,
    graphic: graphics
});
</script>
</body>
</html>
